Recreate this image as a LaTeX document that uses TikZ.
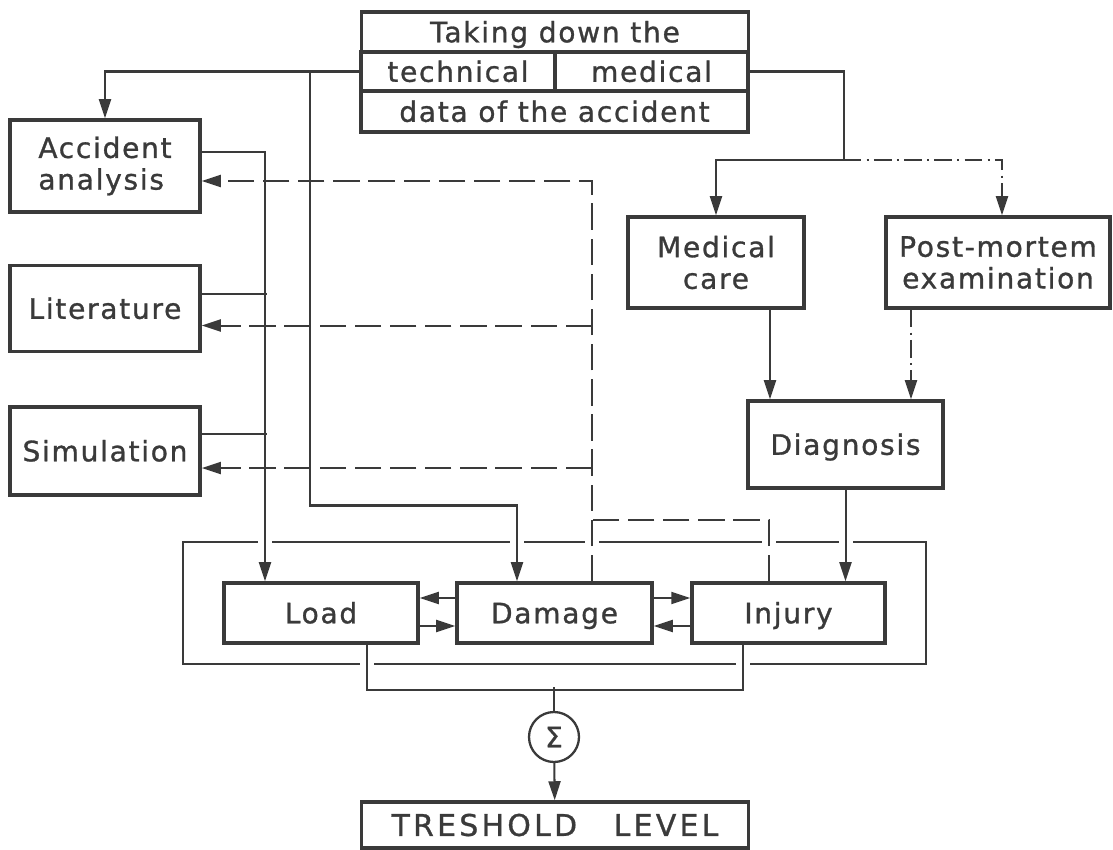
\documentclass[tikz,border=0pt]{standalone}
\usepackage{fontspec}
\setmainfont{DejaVu Sans}[LetterSpace=6, FakeBold=1]
\usetikzlibrary{arrows.meta,positioning,shapes}
\definecolor{ink}{RGB}{58,58,58}

\begin{document}
\begin{tikzpicture}[x=0.2mm, y=-0.2mm, ink,
    every node/.append style={font=\fontsize{16}{18}\selectfont, text=ink},
    box/.style={draw=ink, line width=2pt, inner sep=0pt},
    row/.style={text height=15pt, text depth=3.3pt},
    line/.style={draw=ink, line width=1.15pt},
    arrow/.style={line, -{Triangle[length=3.8mm, width=2.4mm]}},
    fback/.style={dash pattern=on 15pt off 5pt},
    dashdot/.style={dash pattern=on 10pt off 3pt on 1.2pt off 3pt},
    gap/.style={draw=white, line width=4pt}]
    \useasboundingbox (0,0) rectangle (1113,850);

    % data of the accident
    \node[box, row, minimum width=77.4mm, minimum height=8mm] (title) at (555,32) {Taking down the};
    \node[box, row, minimum width=38.8mm, minimum height=7.8mm] (technical) at (458,71.5) {technical};
    \node[box, row, minimum width=38.6mm, minimum height=7.8mm] (medical) at (651.5,71.5) {medical};
    \node[box, row, minimum width=77.4mm, minimum height=8.2mm] (data) at (554.5,111.5) {data of the accident};

    \node[box, align=left, minimum width=38mm, minimum height=18.4mm] (accident) at (105,166) {Accident\\analysis};
    \node[box, row, minimum width=38mm, minimum height=17.2mm, below=10mm of accident] (literature) {Literature};
    \node[box, row, minimum width=38mm, minimum height=17.6mm, below=10.4mm of literature] (simulation) {Simulation};

    \node[box, align=center, minimum width=35.2mm, minimum height=18.2mm] (medcare) at (716,262.5) {Medical\\care};
    \node[box, align=center, minimum width=44.8mm, minimum height=18.2mm] (postmortem) at (998,262.5) {Post-mortem\\examination};
    \node[box, row, minimum width=39mm, minimum height=17.4mm] (diagnosis) at (845.5,444.5) {Diagnosis};

    \node[box, row, minimum width=38.8mm, minimum height=12mm] (load) at (321,613) {Load};
    \node[box, row, minimum width=39mm, minimum height=12mm] (damage) at (554.5,613) {Damage};
    \node[box, row, minimum width=38.6mm, minimum height=12mm] (injury) at (788.5,613) {Injury};

    \node[draw=ink, circle, line width=1.3pt, minimum size=10mm, inner sep=0pt] (sum) at (554,737) {Σ};
    \node[box, row, text height=15.7pt, minimum width=77.4mm, minimum height=9.2mm] (threshold) at (555,825)
        {\fontsize{17}{18}\selectfont\addfontfeature{LetterSpace=11}TRESHOLD\hspace{0.8em} LEVEL};

    % frame round load, damage and injury
    \draw[line width=1.6pt] (183,542) rectangle (926,664);
    \foreach \gx in {265,517,592,769,846} \draw[gap] (\gx-7,542) -- (\gx+7,542);
    \foreach \gx in {367,743} \draw[gap] (\gx-7,664) -- (\gx+7,664);

    % technical data
    \draw[arrow] (technical.west) -| (accident.north);
    \draw[arrow] ([xshift=-9.8mm]technical.west) -- ++(0,434) -| ([xshift=-7.5mm]damage.north);
    \draw[arrow] ([yshift=2.8mm]accident.east) -| ([xshift=-11.2mm]load.north);
    \draw[line] ([yshift=3mm]literature.east) -- ++(65,0);
    \draw[line] ([yshift=3.4mm]simulation.east) -- ++(65,0);

    % medical data
    \draw[arrow] (medical.east) -| ++(94,88.5) coordinate (medfork) -| (medcare.north);
    \draw[arrow, dashdot] (medfork) -| ([xshift=0.8mm]postmortem.north);
    \coordinate (mcout) at ([xshift=10.8mm]medcare.south);
    \coordinate (pmout) at ([xshift=-17.4mm]postmortem.south);
    \draw[arrow] (mcout) -- (mcout |- diagnosis.north);
    \draw[arrow, dashdot] (pmout) -- (pmout |- diagnosis.north);
    \draw[arrow] (diagnosis.south) -- (diagnosis.south |- injury.north);

    % feedback
    \coordinate (fb) at ([xshift=7.5mm]damage.north);
    \coordinate (afb) at ([yshift=-3mm]accident.east);
    \coordinate (lfb) at ([yshift=-3.4mm]literature.east);
    \coordinate (sfb) at ([yshift=-3.4mm]simulation.east);
    \draw[arrow, fback] (fb) |- (afb);
    \draw[arrow, fback] (fb |- lfb) -- (lfb);
    \draw[arrow, fback] (fb |- sfb) -- (sfb);
    \draw[line, fback] ([xshift=-3.9mm]injury.north) |- ++(-177,-61);

    % load, damage, injury
    \draw[arrow] ([yshift=3mm]damage.west) -- ([yshift=3mm]load.east);
    \draw[arrow] ([yshift=-2.6mm]load.east) -- ([yshift=-2.6mm]damage.west);
    \draw[arrow] ([yshift=3mm]damage.east) -- ([yshift=3mm]injury.west);
    \draw[arrow] ([yshift=-2.6mm]injury.west) -- ([yshift=-2.6mm]damage.east);

    % sum
    \draw[line] ([xshift=9.2mm]load.south) -- ++(0,45) -| ([xshift=-9.1mm]injury.south);
    \draw[line] (sum.north) -- ++(0,-24);
    \draw[arrow] (sum) -- (threshold);
\end{tikzpicture}
\end{document}
